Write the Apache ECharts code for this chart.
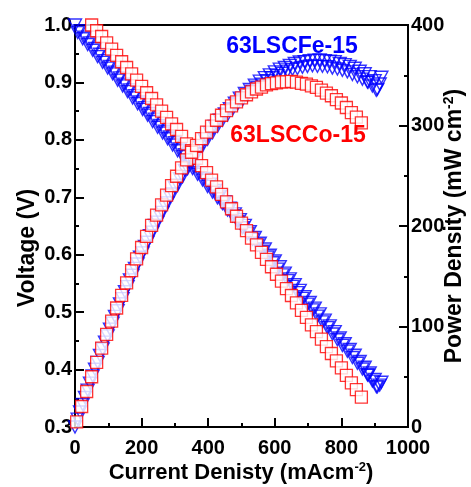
<!DOCTYPE html>
<html><head><meta charset="utf-8">
<script src="https://cdn.jsdelivr.net/npm/echarts@6/dist/echarts.min.js"></script>
<style>html,body{margin:0;padding:0;background:#fff}#c{width:471px;height:487px}</style>
</head><body><div id="c"></div>
<script>
// ---- data ----
const xTicks = [0, 200, 400, 600, 800, 1000];
const vTicks = [0.3, 0.4, 0.5, 0.6, 0.7, 0.8, 0.9, 1.0];
const pTicks = [0, 100, 200, 300, 400];

// 63LSCFe-15, sweep 1
const feCurrent = [0,15,30,45,60,75,90,105,120,135,150,165,180,195,210,225,240,255,270,285,300,315,330,345,360,375,390,405,420,435,450,465,480,495,510,525,540,555,570,585,600,615,630,645,660,675,690,705,720,735,750,765,780,795,810,825,840,855,870,885,900,915,880,905,920];
const feVoltage = [1.000,0.990,0.979,0.969,0.959,0.949,0.938,0.928,0.918,0.908,0.897,0.887,0.877,0.866,0.856,0.846,0.836,0.825,0.815,0.805,0.795,0.784,0.774,0.764,0.753,0.743,0.733,0.723,0.712,0.702,0.692,0.681,0.671,0.661,0.651,0.640,0.630,0.620,0.610,0.599,0.589,0.579,0.568,0.558,0.548,0.538,0.527,0.517,0.507,0.497,0.486,0.476,0.466,0.455,0.445,0.435,0.425,0.414,0.404,0.394,0.383,0.373,0.390,0.370,0.378];
const fePower = [0,14.9,29.4,43.6,57.5,71.1,84.5,97.4,110.1,122.5,134.6,146.4,157.8,168.9,179.8,190.3,200.6,210.4,220.1,229.4,238.5,247.0,255.4,263.6,271.1,278.6,285.9,292.8,299.0,305.4,311.4,316.7,322.1,327.2,332.0,336.0,340.2,344.1,347.7,350.4,353.4,356.1,357.8,359.9,361.7,363.2,363.6,364.5,365.0,365.3,364.5,364.1,363.5,361.7,360.5,358.9,357.0,354.0,351.5,348.7,344.7,341.3,343.0,335.0,348.0];
// 63LSCFe-15, sweep 2
const feCurrent2 = [8,23,38,53,68,83,98,113,128,143,158,173,188,203,218,233,248,263,278,293,308,323,338,353,368,383,398,413,428,443,458,473,488,503,518,533,548,563,578,593,608,623,638,653,668,683,698,713,728,743,758,773,788,803,818,833,848,863,878,893,908];
const feVoltage2 = [0.987,0.976,0.966,0.956,0.945,0.935,0.925,0.915,0.904,0.894,0.884,0.873,0.863,0.853,0.843,0.832,0.822,0.812,0.802,0.791,0.781,0.771,0.760,0.750,0.740,0.730,0.719,0.709,0.699,0.689,0.678,0.668,0.658,0.647,0.637,0.627,0.617,0.606,0.596,0.586,0.575,0.565,0.555,0.545,0.534,0.524,0.514,0.504,0.493,0.483,0.473,0.462,0.452,0.442,0.432,0.421,0.411,0.401,0.391,0.380,0.370];
const fePower2 = [7.9,22.4,36.7,50.7,64.3,77.6,90.7,103.4,115.7,127.8,139.7,151.0,162.2,173.2,183.8,193.9,203.9,213.6,223.0,231.8,240.5,249.0,256.9,264.8,272.3,279.6,286.2,292.8,299.2,305.2,310.5,316.0,321.1,325.4,330.0,334.2,338.1,341.2,344.5,347.5,349.6,352.0,354.1,355.9,356.7,357.9,358.8,359.4,358.9,358.9,358.5,357.1,356.2,354.9,353.4,350.7,348.5,346.1,343.3,339.3,336.0];

// 63LSCCo-15
const coCurrent = [5,20,35,50,65,80,95,110,125,140,155,170,185,200,215,230,245,260,275,290,305,320,335,350,365,380,395,410,425,440,455,470,485,500,515,530,545,560,575,590,605,620,635,650,665,680,695,710,725,740,755,770,785,800,815,830,845,860];
const coVoltage = [1.027,1.018,1.009,1.000,0.990,0.980,0.969,0.958,0.947,0.936,0.926,0.915,0.904,0.893,0.882,0.872,0.861,0.850,0.839,0.828,0.818,0.806,0.793,0.781,0.768,0.755,0.743,0.730,0.718,0.705,0.692,0.680,0.667,0.655,0.642,0.629,0.617,0.604,0.592,0.579,0.566,0.554,0.541,0.529,0.516,0.503,0.491,0.478,0.466,0.453,0.440,0.428,0.415,0.403,0.390,0.377,0.365,0.352];
const coPower = [5.1,20.4,35.3,50.0,64.4,78.4,92.1,105.4,118.4,131.0,143.5,155.6,167.2,178.6,189.6,200.6,210.9,221.0,230.7,240.1,249.5,257.9,265.7,273.4,280.3,286.9,293.5,299.3,305.2,310.2,314.9,319.6,323.5,327.5,330.6,333.4,336.3,338.2,340.4,341.6,342.4,343.5,343.5,343.9,343.1,342.0,341.2,339.4,337.9,335.2,332.2,329.6,325.8,322.4,317.9,312.9,308.4,302.7];

const feName = '63LSCFe-15';
const coName = '63LSCCo-15';

// ---- chart ----
const FONT = '"Liberation Sans", Arial, sans-serif';
const pairs = (xs, ys) => xs.map((x, i) => [x, ys[i]]);
const chart = echarts.init(document.getElementById('c'), null, {renderer: 'canvas'});

const triStyle = {color: 'rgba(0,0,0,0)', borderColor: '#0000ff', borderWidth: 1.4};
const sqStyle = {color: '#ffffff', borderColor: '#ff0000', borderWidth: 1.3};
const tri = (name, axis, data) => ({name, type: 'scatter', yAxisIndex: axis, data, symbol: 'triangle', symbolRotate: 180, symbolSize: [13, 12], itemStyle: triStyle, clip: true});
const sq = (name, axis, data) => ({name, type: 'scatter', yAxisIndex: axis, data, symbol: 'rect', symbolSize: 12, itemStyle: sqStyle, clip: true});

const tickCommon = {
  axisLine: {show: true, lineStyle: {color: '#000', width: 2}},
  axisTick: {show: true, inside: true, length: 9, lineStyle: {color: '#000', width: 2}},
  minorTick: {show: true, splitNumber: 2, length: 4, lineStyle: {color: '#000', width: 2}},
  splitLine: {show: false}
};
const labelFont = {color: '#000', fontSize: 20, fontWeight: 'bold', fontFamily: FONT};

chart.setOption({
  animation: false,
  backgroundColor: '#fff',
  grid: {left: 75, right: 63, top: 25, bottom: 60, show: true, borderColor: '#000', borderWidth: 2, backgroundColor: 'transparent'},
  xAxis: Object.assign({
    type: 'value', min: xTicks[0], max: xTicks[xTicks.length - 1], interval: xTicks[1] - xTicks[0],
    axisLabel: Object.assign({margin: 11, formatter: v => String(v)}, labelFont)
  }, tickCommon),
  yAxis: [Object.assign({
    type: 'value', position: 'left', min: vTicks[0], max: vTicks[vTicks.length - 1], interval: 0.1,
    axisLabel: Object.assign({margin: 3, formatter: v => v.toFixed(1)}, labelFont)
  }, tickCommon), Object.assign({
    type: 'value', position: 'right', min: pTicks[0], max: pTicks[pTicks.length - 1], interval: 100,
    axisLabel: Object.assign({margin: 3, formatter: v => String(v)}, labelFont)
  }, tickCommon)],
  series: [
    tri(feName + ' V', 0, pairs(feCurrent, feVoltage)),
    tri(feName + ' V2', 0, pairs(feCurrent2, feVoltage2)),
    tri(feName + ' P', 1, pairs(feCurrent, fePower)),
    tri(feName + ' P2', 1, pairs(feCurrent2, fePower2)),
    sq(coName + ' V', 0, pairs(coCurrent, coVoltage)),
    sq(coName + ' P', 1, pairs(coCurrent, coPower))
  ],
  graphic: [
    {type: 'text', x: 292, y: 47, z: 100, style: {text: feName, fill: '#0000ff', font: 'bold 23px ' + FONT, align: 'center', verticalAlign: 'middle'}},
    {type: 'text', x: 298, y: 136, z: 100, style: {text: coName, fill: '#ff0000', font: 'bold 23px ' + FONT, align: 'center', verticalAlign: 'middle'}},
    {type: 'text', x: 241, y: 473, style: {text: 'Current Denisty (mAcm{s|-2})', fill: '#000', font: 'bold 22px ' + FONT, align: 'center', verticalAlign: 'middle',
      rich: {s: {fontSize: 13, fontWeight: 'bold', fontFamily: FONT, fill: '#000', verticalAlign: 'top', padding: [0, 0, 12, 0]}}}},
    {type: 'text', x: 28, y: 248, rotation: Math.PI / 2, style: {text: 'Voltage (V)', fill: '#000', font: 'bold 23px ' + FONT, align: 'center', verticalAlign: 'middle'}},
    {type: 'text', x: 455, y: 226, rotation: Math.PI / 2, style: {text: 'Power Density (mW cm{s|-2})', fill: '#000', font: 'bold 23px ' + FONT, align: 'center', verticalAlign: 'middle',
      rich: {s: {fontSize: 14, fontWeight: 'bold', fontFamily: FONT, fill: '#000', verticalAlign: 'top', padding: [0, 0, 12, 0]}}}}
  ]
});
</script>
</body></html>
